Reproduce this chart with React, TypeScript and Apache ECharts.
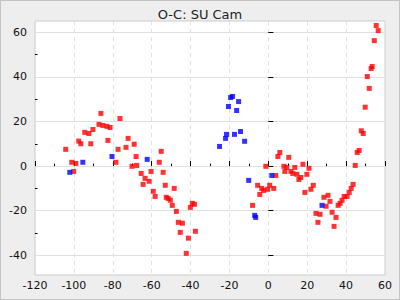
import React, { useEffect, useRef } from "react";
import * as echarts from "echarts";

const chartTitle = "O-C: SU Cam";

const xTicks = [-120, -100, -80, -60, -40, -20, 0, 20, 40, 60];
const yMajorTicks = [-40, -20, 0, 20, 40, 60];
const yMinorTicks = [-30, -10, 10, 30, 50];

const redX = [
  -104.2, -101.1, -100.1, -99.0, -97.5, -96.4, -94.4, -92.3, -91.3, -90.2,
  -87.1, -86.1, -85.1, -83.0, -82.5, -81.4, -78.4, -77.3, -76.3, -73.2,
  -72.1, -70.1, -69.0, -68.0, -67.7, -65.4, -64.4, -63.4, -61.3, -60.3,
  -59.2, -58.2, -56.1, -55.1, -54.1, -53.0, -52.5, -51.5, -50.4, -49.4,
  -48.4, -47.3, -46.3, -45.3, -44.2, -42.2, -41.1, -40.1, -39.1, -38.0,
  -37.5, -8.1, -5.5, -4.4, -3.4, -2.4, -1.3, -0.3, 0.7, 2.8,
  3.8, 4.9, 5.9, 8.0, 8.5, 9.5, 10.5, 11.6, 12.6, 13.6,
  14.7, 15.7, 16.7, 17.8, 18.8, 19.8, 20.9, 21.9, 23.1, 24.5,
  25.5, 26.6, 28.6, 29.7, 30.7, 31.7, 32.8, 33.8, 34.8, 35.9,
  36.9, 37.9, 39.0, 40.5, 41.6, 42.6, 43.6, 44.7, 45.7, 46.7,
  47.8, 48.8, 49.8, 50.9, 51.9, 52.9, 53.4, 54.5, 55.5, 56.5,
];
const redY = [
  7.5, 1.7, -2.4, 1.2, 11.2, 10.0, 15.1, 14.6, 10.0, 16.4,
  18.7, 23.6, 18.2, 17.8, 11.5, 17.3, 1.7, 7.5, 21.3, 8.4,
  12.4, -0.1, 9.8, 4.3, 0.3, -3.3, -8.2, -5.5, -6.8, -2.4,
  -11.3, -13.6, 1.7, 6.6, -2.8, -8.6, -14.0, -14.5, -15.3, -17.6,
  -10.0, -20.3, -25.2, -29.7, -25.6, -39.1, -32.3, -18.5, -16.7, -17.1,
  -29.2, -17.6, -8.6, -12.7, -10.0, -10.9, -0.1, -10.4, -8.6, -10.0,
  -4.2, 4.3, 6.1, -0.1, -2.4, -0.6, 3.9, -2.4, -3.3, -0.6,
  -3.7, -6.0, -5.1, 0.8, -11.8, -3.7, -1.0, -10.4, -8.6, -21.2,
  -25.2, -21.6, -14.0, -18.0, -13.1, -15.8, -20.7, -27.0, -23.0, -17.6,
  -16.7, -15.3, -13.6, -13.6, -11.8, -10.0, -8.2, 0.3, 6.1, 7.0,
  15.8, 14.6, 26.4, 40.1, 34.8, 43.7, 44.6, 56.2, 63.0, 60.7,
];

const blueX = [
  -102.1, -95.4, -80.4, -62.3, -25.1, -22.0, -21.5, -20.5, -19.4, -18.4,
  -17.4, -16.3, -15.3, -14.3, -12.2, -10.1, -7.0, -6.5, 1.8, 27.6,
];
const blueY = [
  -2.8, 1.7, 4.3, 3.0, 8.8, 12.4, 14.2, 26.7, 30.7, 31.2,
  14.2, 24.9, 28.9, 15.5, 11.1, -6.4, -22.1, -23.0, -4.2, -17.6,
];

const zip = (xs: number[], ys: number[]) => xs.map((x, i) => [x, ys[i]]);

export default function App() {
  const ref = useRef<HTMLDivElement>(null);

  useEffect(() => {
    if (!ref.current) return;
    const chart = echarts.init(ref.current, undefined, { renderer: "svg" });
    const font = "DejaVu Sans";
    chart.setOption({
      animation: false,
      backgroundColor: "#eeeeee",
      textStyle: { fontFamily: font },
      title: {
        text: chartTitle,
        left: "center",
        top: 3,
        textStyle: { fontFamily: font, fontSize: 13, fontWeight: "normal", color: "#222" },
      },
      graphic: [
        {
          type: "rect",
          shape: { x: 0.5, y: 0.5, width: 399, height: 299 },
          style: { fill: "none", stroke: "#c4c4c4", lineWidth: 1 },
          silent: true,
        },
      ],
      grid: {
        left: 35,
        right: 15,
        top: 21,
        bottom: 25,
        show: true,
        backgroundColor: "#ffffff",
        borderColor: "#cccccc",
        borderWidth: 1,
      },
      xAxis: {
        type: "value",
        min: xTicks[0],
        max: xTicks[xTicks.length - 1],
        interval: 20,
        axisLine: { show: false },
        axisTick: { show: true, inside: true, length: 5, lineStyle: { color: "#000" } },
        minorTick: { show: true, splitNumber: 2, length: 2.5, lineStyle: { color: "#000" } },
        axisLabel: { fontFamily: font, fontSize: 11, color: "#111", margin: 5 },
        splitLine: { show: true, lineStyle: { color: "#e0e0e0", type: [4, 4] } },
      },
      yAxis: [
        {
          type: "value",
          min: -48.8,
          max: 65,
          axisLine: { show: false },
          axisTick: {
            show: true,
            inside: true,
            length: 5,
            customValues: yMajorTicks,
            lineStyle: { color: "#000" },
          },
          axisLabel: {
            fontFamily: font,
            fontSize: 11,
            color: "#111",
            margin: 8,
            customValues: yMajorTicks,
          },
          splitLine: { show: true, lineStyle: { color: "#e0e0e0", type: "solid" } },
        },
        {
          type: "value",
          min: -48.8,
          max: 65,
          position: "left",
          axisLine: { show: false },
          axisTick: {
            show: true,
            inside: true,
            length: 2.5,
            customValues: yMinorTicks,
            lineStyle: { color: "#000" },
          },
          axisLabel: { show: false },
          splitLine: { show: false },
        },
      ],
      series: [
        {
          type: "scatter",
          yAxisIndex: 0,
          symbol: "rect",
          symbolSize: 5,
          itemStyle: { color: "#ff0000" },
          data: zip(redX, redY),
        },
        {
          type: "scatter",
          yAxisIndex: 0,
          symbol: "rect",
          symbolSize: 5,
          itemStyle: { color: "#0000ff" },
          data: zip(blueX, blueY),
        },
      ],
    });
    return () => chart.dispose();
  }, []);

  return (
    <div
      ref={ref}
      style={{ position: "fixed", left: 0, top: 0, width: 400, height: 300 }}
    />
  );
}
